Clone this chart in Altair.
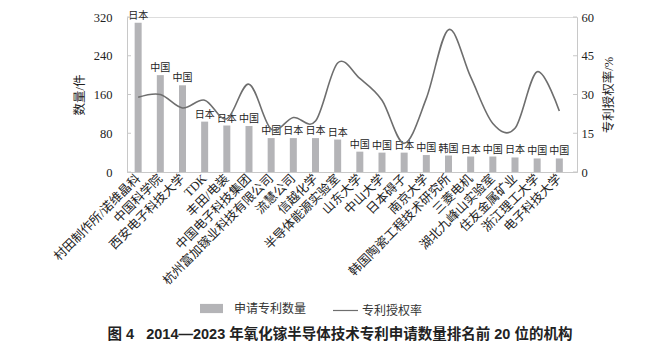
import altair as alt
import pandas as pd

institutions = [
    "村田制作所/诺维晶科", "中国科学院", "西安电子科技大学", "TDK", "丰田/电装",
    "中国电子科技集团", "杭州富加镓业科技有限公司", "流慧公司", "信越化学", "半导体能源实验室",
    "山东大学", "中山大学", "日本碍子", "南京大学", "韩国陶瓷工程技术研究所",
    "三菱电机", "湖北九峰山实验室", "住友金属矿业", "浙江理工大学", "电子科技大学",
]
countries = [
    "日本", "中国", "中国", "日本", "日本", "中国", "中国", "日本", "日本", "日本",
    "中国", "中国", "日本", "中国", "韩国", "日本", "中国", "日本", "中国", "中国",
]
applications = [308, 200, 179, 104, 96, 95, 70, 70, 70, 67,
                42, 40, 40, 35, 34, 32, 32, 30, 28, 28]
grant_rate = [28.9, 30.0, 24.8, 27.8, 20.6, 34.0, 16.6, 21.1, 19.7, 42.2,
              36.2, 27.8, 11.1, 28.5, 55.1, 36.8, 18.8, 16.9, 38.8, 23.6]
left_ticks = [0, 80, 160, 240, 320]
right_ticks = [0, 15, 30, 45, 60]

SERIF = "Liberation Serif, Noto Sans CJK SC"
SANS = "Liberation Sans, Noto Sans CJK SC"

df = pd.DataFrame({
    "机构": institutions,
    "国家": countries,
    "申请数量": applications,
    "授权率": grant_rate,
    "bar_series": ["申请专利数量"] * len(institutions),
    "line_series": ["专利授权率"] * len(institutions),
})
lt = pd.DataFrame({"v": left_ticks})
rt = pd.DataFrame({"v": right_ticks})

W, H = 450, 155

xenc = alt.X(
    "机构:N", sort=None,
    scale=alt.Scale(paddingInner=0.68, paddingOuter=0.49, align=0.35),
    axis=alt.Axis(title=None, labelAngle=-45, labelAlign="right", labelBaseline="middle",
                  labelFont=SERIF, labelFontSize=12.5, labelColor="#222", labelPadding=4,
                  ticks=False, domainColor="#c8c8c8", labelLimit=0),
)

yleft_scale = alt.Scale(domain=[0, 320], nice=False)
yright_scale = alt.Scale(domain=[0, 60], nice=False)

left_axis = alt.Axis(title="数量/件", values=left_ticks, ticks=False, grid=False,
                     domainColor="#c8c8c8", labelFont=SERIF, labelFontSize=12.5,
                     labelColor="#222", labelPadding=15, labelOverlap=False,
                     titleFont=SERIF, titleFontSize=12.5, titleFontWeight="normal",
                     titleColor="#222", titlePadding=7)
right_axis = alt.Axis(orient="right", title="专利授权率/%", values=right_ticks, ticks=False,
                      grid=False, domainColor="#c8c8c8", labelFont=SERIF,
                      labelFontSize=12.5, labelColor="#222", labelPadding=4,
                      labelOverlap=False, titleAngle=270, titleBaseline="top",
                      titleFont=SERIF, titleFontSize=12.5, titleFontWeight="normal",
                      titleColor="#222", titlePadding=9)

bars = alt.Chart(df).mark_bar(size=7).encode(
    x=xenc,
    y=alt.Y("申请数量:Q", scale=yleft_scale, axis=left_axis),
    color=alt.Color("bar_series:N", scale=alt.Scale(range=["#b4b4b7"]),
                    legend=alt.Legend(orient="none", legendX=73, legendY=280, title=None,
                                      symbolType="M-1,-0.4H1V0.4H-1Z", symbolSize=529,
                                      symbolStrokeWidth=0, symbolOpacity=1,
                                      labelFont=SANS, labelFontSize=12, labelColor="#333",
                                      labelOffset=11)),
)

labels = alt.Chart(df).mark_text(dy=-7, font=SERIF, fontSize=10, color="#222").encode(
    x=alt.X("机构:N", sort=None),
    y=alt.Y("申请数量:Q", scale=yleft_scale, axis=left_axis),
    text="国家:N",
)

lticks = alt.Chart(lt).mark_rule(color="#c8c8c8").encode(
    y=alt.Y("v:Q", scale=yleft_scale, axis=left_axis), x=alt.value(0), x2=alt.value(4)
)

left = alt.layer(bars, labels, lticks)

line = alt.Chart(df).mark_line(interpolate="cardinal", strokeWidth=1.6).encode(
    x=alt.X("机构:N", sort=None),
    y=alt.Y("授权率:Q", scale=yright_scale, axis=right_axis),
    stroke=alt.Stroke("line_series:N", scale=alt.Scale(range=["#6e6e6e"]),
                      legend=alt.Legend(orient="none", legendX=205, legendY=280, title=None,
                                        symbolType="stroke", symbolSize=625,
                                        symbolStrokeWidth=1.2,
                                        labelFont=SANS, labelFontSize=12, labelColor="#333",
                                        labelOffset=3)),
)

rticks = alt.Chart(rt).mark_rule(color="#c8c8c8").encode(
    y=alt.Y("v:Q", scale=yright_scale, axis=right_axis), x=alt.value(W - 4), x2=alt.value(W)
)

right = alt.layer(line, rticks)

chart = alt.layer(left, right).resolve_scale(
    y="independent", color="independent", stroke="independent"
).properties(
    width=W, height=H,
    autosize=alt.AutoSizeParams(type="none"),
    padding={"left": 127, "top": 17, "right": 670 - 127 - W, "bottom": 352 - 17 - H},
    title=alt.TitleParams(
        text="图 4\u00a0\u00a0 2014—2023 年氧化镓半导体技术专利申请数量排名前 20 位的机构",
        orient="bottom", anchor="middle", font=SANS, fontSize=14.5, fontWeight="bold",
        color="#222", offset=11, dx=-12,
    ),
).configure_view(stroke=None).configure(background="white")

chart.save("out.html", embed_options={"renderer": "svg", "actions": False})
